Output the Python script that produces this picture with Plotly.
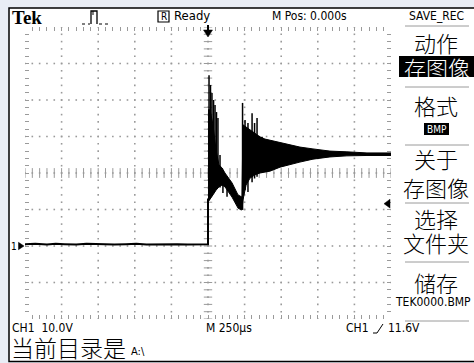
import numpy as np
import plotly.graph_objects as go

# ---------------- data ----------------
# time in microseconds (M 250us/div), voltage in volts (CH1 10.0V/div)
baseline_t = [-1250, -1180, -1100, -1040, -980, -900, -830, -760, -700, -640,
              -560, -490, -420, -350, -280, -210, -140, -70, 0, 0]
baseline_v = [0.5, 0.6, 0.4, 0.6, 0.5, 0.4, 0.6, 0.5, 0.6, 0.4,
              0.5, 0.6, 0.4, 0.5, 0.6, 0.5, 0.4, 0.5, 0.5, 13.0]

# envelope of the dense ringing (upper / lower)
mass_t = [0, 14, 34, 55, 75, 96, 116, 164, 205, 225, 232, 239, 260, 287, 321,
          355, 389, 423, 492, 560, 628, 717, 833, 949, 1086, 1250]
mass_hi = [37.3, 37.3, 33.2, 26.3, 22.2, 21.4, 20.0, 17.3, 14.0, 13.4, 13.4,
           33.2, 32.6, 31.8, 31.0, 29.9, 29.3, 29.0, 28.2, 27.7, 27.1, 26.6,
           26.0, 25.8, 25.5, 25.5]
mass_lo = [12.0, 12.6, 14.0, 15.3, 16.2, 16.7, 16.2, 13.4, 10.4, 9.9, 9.9,
           12.6, 16.7, 18.6, 19.5, 20.0, 20.3, 20.5, 21.6, 22.2, 23.0, 23.8,
           24.4, 24.7, 24.8, 24.8]

# individual spikes sticking out of the envelope
spike_t = [7, 17, 27, 38, 48, 58, 68, 82, 102, 130, 236, 253, 273, 301, 318,
           335, 369, 403]
spike_top = [46.8, 44.1, 41.9, 40.0, 38.6, 36.7, 35.1, 24.9, 20.8, 18.6, 39.2,
             34.5, 33.7, 36.4, 33.7, 35.1, 29.9, 29.0]
spike_bot = [12.6, 13.4, 14.5, 15.0, 15.5, 16.0, 16.5, 16.0, 14.5, 13.5, 9.9,
             15.3, 14.8, 17.5, 18.5, 19.0, 20.0, 20.3]

trigger_level = 11.6   # V
t_range = [-1250, 1250]
v_range = [-20, 60]
t_div, v_div = 250, 10

menu_items = ["动作", "格式", "关于", "存图像", "选择", "文件夹", "储存"]

# ---------------- geometry ----------------
W, H = 474, 363
L, R, T, B = 25, 391, 27, 319


def px(x):
    return (x - L) / (R - L)


def py(y):
    return (B - y) / (B - T)


def path(points, close=False):
    s = "M " + " L ".join(f"{px(x):.5f},{py(y):.5f}" for x, y in points)
    return s + (" Z" if close else "")


UI = "Liberation Sans Narrow, Arial Narrow, DejaVu Sans Condensed, Liberation Sans, sans-serif"
CJK = "Noto Sans CJK SC"
BG = "#e9edf5"

fig = go.Figure()

# graticule dots
gx, gy = [], []
for tv in np.arange(t_range[0] + t_div, t_range[1], t_div):
    for vv in np.arange(v_range[0], v_range[1] + 0.1, v_div / 5):
        gx.append(tv); gy.append(vv)
for vv in np.arange(v_range[0] + v_div, v_range[1], v_div):
    for tv in np.arange(t_range[0], t_range[1] + 1, t_div / 5):
        gx.append(tv); gy.append(vv)
fig.add_trace(go.Scatter(x=gx, y=gy, mode="markers", hoverinfo="skip",
                         marker=dict(symbol="square", size=1.6, color="#9a9a9a",
                                     line=dict(width=0))))
# center-cross ticks
ct = np.arange(t_range[0], t_range[1] + 1, t_div / 5)
fig.add_trace(go.Scatter(x=ct, y=[sum(v_range) / 2] * len(ct), mode="markers",
                         hoverinfo="skip",
                         marker=dict(symbol="line-ns", size=7,
                                     line=dict(color="#9a9a9a", width=1))))
cv = np.arange(v_range[0], v_range[1] + 0.1, v_div / 5)
fig.add_trace(go.Scatter(x=[0] * len(cv), y=cv, mode="markers", hoverinfo="skip",
                         marker=dict(symbol="line-ew", size=6,
                                     line=dict(color="#9a9a9a", width=1))))

# waveform
fig.add_trace(go.Scatter(x=mass_t + mass_t[::-1], y=mass_hi + mass_lo[::-1],
                         mode="lines", fill="toself", fillcolor="black",
                         line=dict(color="black", width=1), hoverinfo="skip"))
fig.add_trace(go.Scatter(x=baseline_t, y=baseline_v, mode="lines",
                         line=dict(color="black", width=2), hoverinfo="skip"))
sx, sy = [], []
for t, a, b in zip(spike_t, spike_bot, spike_top):
    sx += [t, t, None]; sy += [a, b, None]
fig.add_trace(go.Scatter(x=sx, y=sy, mode="lines",
                         line=dict(color="black", width=1.5), hoverinfo="skip"))

shapes = []
# screen frame
shapes.append(dict(type="rect", xref="paper", yref="paper", layer="below",
                   x0=px(9), x1=px(490), y0=py(8), y1=py(361.5),
                   fillcolor="white", line=dict(color="black", width=1.5)))
# trigger position arrow (top, at t=0)
shapes.append(dict(type="path", xref="paper", yref="paper",
                   path=path([(208, 25), (208, 31)]),
                   line=dict(color="black", width=2)))
shapes.append(dict(type="path", xref="paper", yref="paper",
                   path=path([(203.5, 30), (212.5, 30), (208, 37)], True),
                   fillcolor="black", line=dict(color="black", width=0.5)))
# trigger level arrow (right)
shapes.append(dict(type="path", xref="paper", yref="y",
                   path=f"M {px(384):.5f},{trigger_level} L {px(390):.5f},{trigger_level + 1.2} "
                        f"L {px(390):.5f},{trigger_level - 1.2} Z",
                   fillcolor="black", line=dict(color="black", width=0.5)))
# ground marker arrow (left)
shapes.append(dict(type="path", xref="paper", yref="y",
                   path=f"M {px(24):.5f},0 L {px(18.5):.5f},1.0 L {px(18.5):.5f},-1.0 Z",
                   fillcolor="black", line=dict(color="black", width=0.5)))
# run icon (pulse)
shapes.append(dict(type="path", xref="paper", yref="paper",
                   path=path([(91, 24), (91, 11), (97, 11), (97, 24)]),
                   line=dict(color="black", width=1.3)))
shapes.append(dict(type="path", xref="paper", yref="paper",
                   path=path([(93, 11), (93, 15)]),
                   line=dict(color="black", width=1)))
for x0, x1 in [(82, 90), (99, 110)]:
    shapes.append(dict(type="line", xref="paper", yref="paper",
                       x0=px(x0), x1=px(x1), y0=py(24), y1=py(24),
                       line=dict(color="black", width=1, dash="dot")))
# R box
shapes.append(dict(type="rect", xref="paper", yref="paper",
                   x0=px(158), x1=px(169), y0=py(11), y1=py(22),
                   line=dict(color="black", width=1.2)))
# trigger edge icon at bottom
shapes.append(dict(type="path", xref="paper", yref="paper",
                   path=path([(373, 333), (377, 333), (383, 324)]),
                   line=dict(color="black", width=1)))
# menu separators
for yy in [26, 87, 145, 203, 262, 321]:
    shapes.append(dict(type="line", xref="paper", yref="paper",
                       x0=px(405), x1=px(469), y0=py(yy), y1=py(yy),
                       line=dict(color="#9a9a9a", width=1)))
# inverted boxes
shapes.append(dict(type="rect", xref="paper", yref="paper",
                   x0=px(399), x1=px(480), y0=py(56), y1=py(77),
                   fillcolor="black", line=dict(width=0)))
shapes.append(dict(type="rect", xref="paper", yref="paper",
                   x0=px(424), x1=px(449), y0=py(123), y1=py(135),
                   fillcolor="black", line=dict(width=0)))

ann = []


def txt(x, y, s, size, family=UI, color="black", xa="left", weight="normal"):
    ann.append(dict(x=px(x), y=py(y), xref="paper", yref="paper", text=s,
                    showarrow=False, xanchor=xa, yanchor="middle",
                    font=dict(family=family, size=size, color=color, weight=weight),
                    borderpad=0))


txt(11, 17, "Tek", 19, family="Liberation Serif", weight="bold")
txt(163.5, 16.5, "R", 10, xa="center")
txt(173, 16, "Ready", 13)
txt(271, 16, "M Pos: 0.000s", 12)
txt(436, 16, "SAVE_REC", 12, xa="center")
txt(436, 42, menu_items[0], 22, family=CJK, xa="center", weight=300)
txt(437, 66.5, menu_items[3], 22, family=CJK, color="white", xa="center", weight=300)
txt(436, 105, menu_items[1], 22, family=CJK, xa="center", weight=300)
txt(436.5, 129.5, "BMP", 10, color="white", xa="center")
txt(436, 158, menu_items[2], 22, family=CJK, xa="center", weight=300)
txt(436, 187, menu_items[3], 22, family=CJK, xa="center", weight=300)
txt(436, 218, menu_items[4], 22, family=CJK, xa="center", weight=300)
txt(436, 242, menu_items[5], 22, family=CJK, xa="center", weight=300)
txt(436, 282, menu_items[6], 22, family=CJK, xa="center", weight=300)
txt(394, 301.5, "TEK0000.BMP", 12)
txt(11, 328, "CH1  10.0V", 12)
txt(205, 328, "M 250µs", 12)
txt(345, 328, "CH1", 12)
txt(387, 328, f"{trigger_level}V", 12)
txt(10, 347, "当前目录是", 23, family=CJK, weight=300)
txt(130, 351, "A:\\", 11)
ann.append(dict(x=px(14), y=0, xref="paper", yref="y", text="1", showarrow=False,
                xanchor="center", yanchor="middle",
                font=dict(family=UI, size=10, color="black")))

fig.update_layout(
    width=W, height=H, margin=dict(l=L, r=W - R, t=T, b=H - B, pad=0),
    paper_bgcolor=BG, plot_bgcolor="rgba(0,0,0,0)",
    showlegend=False, shapes=shapes, annotations=ann,
    xaxis=dict(range=t_range, showgrid=False, zeroline=False, showline=False,
               showticklabels=False, ticks="inside", ticklen=4, tickcolor="#9a9a9a",
               tickwidth=1, tick0=t_range[0], dtick=t_div / 5, mirror="ticks",
               fixedrange=True),
    yaxis=dict(range=v_range, showgrid=False, zeroline=False, showline=False,
               showticklabels=False, ticks="inside", ticklen=4, tickcolor="#9a9a9a",
               tickwidth=1, tick0=v_range[0], dtick=v_div / 5, mirror="ticks",
               fixedrange=True),
)

fig.write_html("out.html", config={"displayModeBar": False},
               post_script=f"document.body.style.margin='0';"
                           f"document.body.style.overflow='hidden';"
                           f"document.body.style.background='{BG}';")
